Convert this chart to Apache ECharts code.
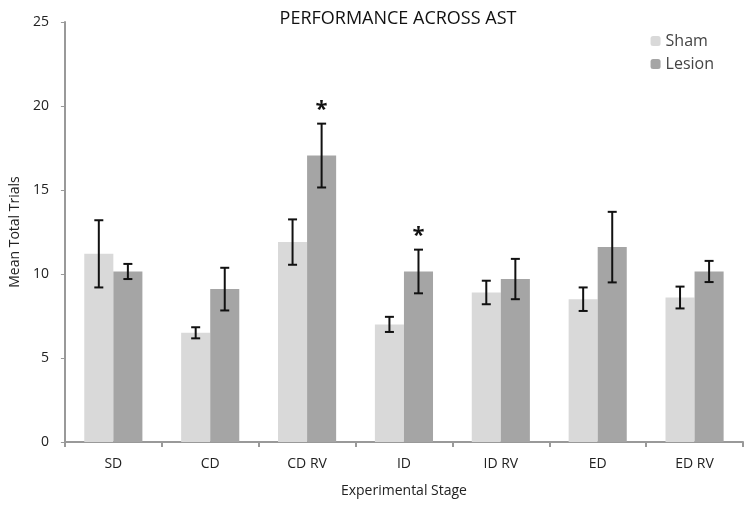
<!DOCTYPE html>
<html><head><meta charset="utf-8">
<script src="https://cdn.jsdelivr.net/npm/echarts@6/dist/echarts.min.js"></script>
<style>html,body{margin:0;padding:0;background:#fff}#c{width:755px;height:513px}</style>
</head><body><div id="c"></div>
<script>
var categories = ['SD','CD','CD RV','ID','ID RV','ED','ED RV'];
var shamMean = [11.2, 6.5, 11.9, 7.0, 8.9, 8.5, 8.6];
var shamErr = [2.0, 0.33, 1.35, 0.45, 0.7, 0.7, 0.65];
var lesionMean = [10.15, 9.1, 17.05, 10.15, 9.7, 11.6, 10.15];
var lesionErr = [0.45, 1.27, 1.9, 1.3, 1.2, 2.1, 0.63];
var significant = [false, false, true, true, false, false, false];
var yTicks = [0, 5, 10, 15, 20, 25];

var FONT = 'Open Sans';
var CAT_GAP = 0.4;
var chart = echarts.init(document.getElementById('c'));

function errSeries(means, errs, side, withStar) {
  return {
    type: 'custom',
    z: 5,
    data: means.map(function (m, i) { return [i, m, errs[i], significant[i] ? 1 : 0]; }),
    renderItem: function (params, api) {
      var i = api.value(0), m = api.value(1), e = api.value(2);
      var c = api.coord([i, m]);
      var catW = api.size([1, 0])[0];
      var bw = catW * (1 - CAT_GAP) / 2;
      var x = c[0] + side * bw / 2;
      var top = api.coord([i, m + e])[1];
      var bot = api.coord([i, m - e])[1];
      var cap = 4.5;
      var st = { stroke: '#111', lineWidth: 2 };
      var children = [
        { type: 'line', shape: { x1: x, y1: top, x2: x, y2: bot }, style: st },
        { type: 'line', shape: { x1: x - cap, y1: top, x2: x + cap, y2: top }, style: st },
        { type: 'line', shape: { x1: x - cap, y1: bot, x2: x + cap, y2: bot }, style: st }
      ];
      if (withStar && api.value(3)) {
        children.push({ type: 'text', style: { text: '*', x: x, y: top - 3, textAlign: 'center', textVerticalAlign: 'bottom', font: 'bold 22px ' + FONT, fill: '#111' } });
      }
      return { type: 'group', children: children };
    }
  };
}

chart.setOption({
  animation: false,
  textStyle: { fontFamily: FONT },
  title: { text: 'PERFORMANCE ACROSS AST', left: 393, textAlign: 'center', top: 5,
    textStyle: { fontFamily: FONT, fontSize: 18, fontWeight: 'normal', color: '#111' } },
  legend: { right: 36, top: 28, orient: 'vertical', itemWidth: 10, itemHeight: 10, itemGap: 7,
    textStyle: { fontFamily: FONT, fontSize: 16, color: '#444' }, data: ['Sham', 'Lesion'] },
  grid: { left: 63, right: 12, top: 22, bottom: 71 },
  xAxis: {
    type: 'category', data: categories,
    name: 'Experimental Stage', nameLocation: 'middle', nameGap: 42,
    nameTextStyle: { fontFamily: FONT, fontSize: 14, color: '#222' },
    axisLine: { lineStyle: { color: '#999', width: 2 } },
    axisTick: { show: true, length: 5, lineStyle: { color: '#999', width: 2 } },
    axisLabel: { fontFamily: FONT, fontSize: 14, color: '#222', margin: 15 }
  },
  yAxis: {
    type: 'value', min: yTicks[0], max: yTicks[yTicks.length - 1], interval: 5,
    name: 'Mean Total Trials', nameLocation: 'middle', nameGap: 40,
    nameTextStyle: { fontFamily: FONT, fontSize: 14, color: '#222' },
    splitLine: { show: false },
    axisLine: { show: true, lineStyle: { color: '#999', width: 2 } },
    axisTick: { show: true, length: 4, lineStyle: { color: '#999' } },
    axisLabel: { fontFamily: FONT, fontSize: 14, color: '#222', margin: 16 }
  },
  series: [
    { name: 'Sham', type: 'bar', data: shamMean, barGap: '0%', barCategoryGap: (CAT_GAP * 100) + '%',
      itemStyle: { color: '#d9d9d9' } },
    { name: 'Lesion', type: 'bar', data: lesionMean, barGap: '0%', barCategoryGap: (CAT_GAP * 100) + '%',
      itemStyle: { color: '#a5a5a5' } },
    errSeries(shamMean, shamErr, -1, false),
    errSeries(lesionMean, lesionErr, 1, true)
  ]
});
</script></body></html>
